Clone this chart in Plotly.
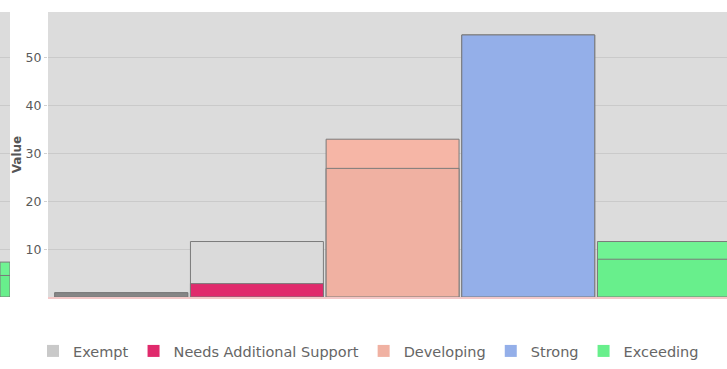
import plotly.graph_objects as go

# Performance levels and their colours
levels = ["Exempt", "Needs Additional Support", "Developing", "Strong", "Exceeding"]
front_values = [0.9, 2.8, 26.9, 54.8, 7.9]
back_values = [0.9, 11.6, 33.0, 54.8, 11.6]
front_colors = ["#868686", "#e02a6c", "#f0b1a2", "#94afe9", "#68ef8c"]
back_colors = ["#868686", "#dadada", "#f6b6a6", "#94afe9", "#70f393"]
legend_colors = ["#c9c9c9", "#e02a6c", "#f0b1a2", "#94afe9", "#68ef8c"]

# Neighbouring panel (only its edge is visible)
side_back = [7.3]
side_front = [4.5]

y_ticks = [10, 20, 30, 40, 50]

fig = go.Figure()

for i, lvl in enumerate(levels):
    fig.add_trace(go.Bar(
        x=[i], y=[back_values[i]], width=0.98,
        marker=dict(color=back_colors[i], line=dict(color="#7a7a7a", width=1)),
        showlegend=False, hoverinfo="skip",
    ))
for i, lvl in enumerate(levels):
    fig.add_trace(go.Bar(
        x=[i], y=[front_values[i]], width=0.98, name=lvl,
        marker=dict(color=front_colors[i], line=dict(color="#7a7a7a", width=1)),
        showlegend=False,
    ))
    # legend entry in the level's key colour
    fig.add_trace(go.Bar(
        x=[None], y=[None], name=lvl,
        marker=dict(color=legend_colors[i], line=dict(width=0)),
    ))

fig.add_trace(go.Bar(x=[0], y=side_back, width=1, xaxis="x2", yaxis="y2",
                     marker=dict(color="#70f393", line=dict(color="#7a7a7a", width=1)),
                     showlegend=False, hoverinfo="skip"))
fig.add_trace(go.Bar(x=[0], y=side_front, width=1, xaxis="x2", yaxis="y2",
                     marker=dict(color="#68ef8c", line=dict(color="#7a7a7a", width=1)),
                     showlegend=False, hoverinfo="skip"))

W, H = 727, 369
fig.update_layout(
    width=W, height=H,
    barmode="overlay",
    paper_bgcolor="white",
    plot_bgcolor="#dcdcdc",
    margin=dict(l=0, r=0, t=12, b=72),
    font=dict(family="DejaVu Sans", size=12, color="#555555"),
    xaxis=dict(domain=[48 / W, 1], range=[-0.54, 4.465], showticklabels=False,
               showgrid=False, zeroline=False, showline=True, linecolor="#f4c8c8",
               linewidth=2, ticks=""),
    yaxis=dict(range=[0, 59.6], tickvals=y_ticks, showgrid=True, gridcolor="#cacaca",
               gridwidth=1, zeroline=False, ticks="outside", ticklen=3,
               tickcolor="#d0d0d0", tickfont=dict(size=12.5, color="#5a5a5a"),
               title=dict(text="<b>Value</b>", font=dict(size=12, color="#555555"), standoff=1)),
    xaxis2=dict(domain=[0, 10 / W], range=[-0.5, 0.5], showticklabels=False,
                showgrid=False, zeroline=False, anchor="y2"),
    yaxis2=dict(range=[0, 59.6], tickvals=y_ticks, showgrid=True, gridcolor="#cacaca",
                showticklabels=False, zeroline=False, anchor="x2", overlaying="y"),
    legend=dict(orientation="h", xref="container", yref="container",
                x=33 / W, xanchor="left", y=1 - 351 / H, yanchor="middle",
                font=dict(size=14.5, color="#666666"), itemwidth=30,
                bgcolor="rgba(0,0,0,0)"),
    bargap=0.02,
)

fig.write_html("out.html")
